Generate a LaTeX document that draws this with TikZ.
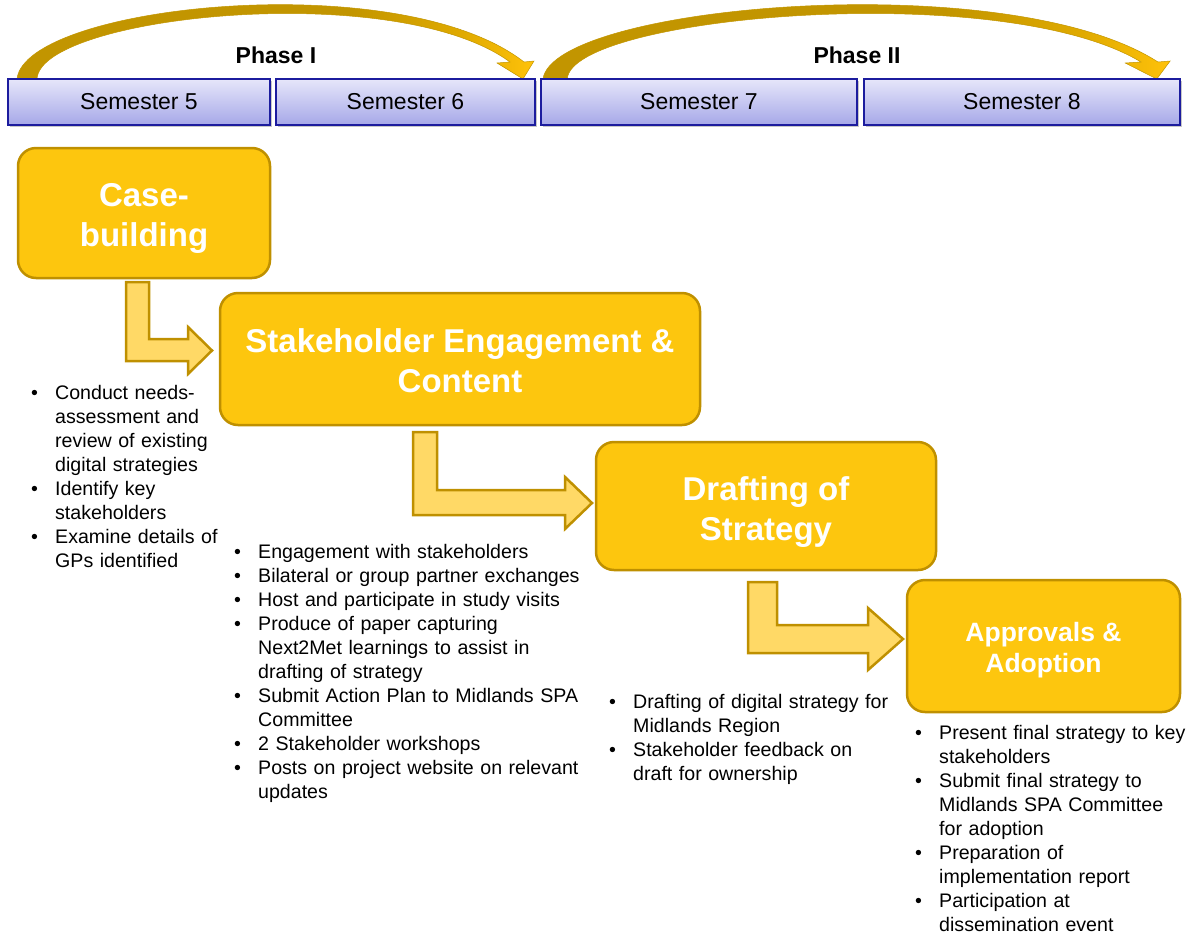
\documentclass[tikz,border=0pt]{standalone}
\usepackage{fontspec}
\setmainfont{Liberation Sans}
\definecolor{boxfill}{HTML}{FDC60E}
\definecolor{boxline}{HTML}{BF9000}
\definecolor{arrowfill}{HTML}{FFD966}
\definecolor{semline}{HTML}{1C1C9E}
\definecolor{semtop}{HTML}{E6E6FA}
\definecolor{sembot}{HTML}{A6A8E8}
\definecolor{arcdark}{HTML}{C29500}
\definecolor{arcmid}{HTML}{E0AA00}
\definecolor{arclight}{HTML}{FFC20A}
\pgfdeclarehorizontalshading{goldarc}{100bp}{color(0bp)=(arcdark); color(25bp)=(arcdark); color(57bp)=(arcdark); color(68bp)=(arcmid); color(75bp)=(arclight); color(100bp)=(arclight)}
\newcommand{\bitem}[1]{\noindent\hangindent=24pt\hangafter=1\makebox[24pt][l]{\textbullet}#1\par}
\newcommand{\arcshape}{(0,79) .. controls (8,5) and (383,-35) .. (507,62) -- (517,61) -- (506,79) -- (480,63) -- (493,62) .. controls (378,-22) and (23,16) .. (20,79) -- cycle}
\begin{document}
\begin{tikzpicture}[x=1pt,y=-1pt,
  stage/.style={draw=boxline, line width=2.5pt, fill=boxfill, rounded corners=18pt, inner sep=0pt},
  stagetext/.style={text=white, font=\bfseries\fontsize{33}{40}\selectfont, align=center, inner sep=0pt},
  sem/.style={draw=semline, line width=1.2pt, top color=semtop, bottom color=sembot, font=\fontsize{23}{27}\selectfont, inner sep=0pt},
  semshadow/.style={fill=black!22},
  bent/.style={draw=boxline, line width=2.5pt, fill=arrowfill, line join=miter},
  bul/.style={anchor=base west, inner sep=0pt, text width=400pt, align=left, font=\fontsize{19.6}{24}\selectfont},
  phase/.style={font=\bfseries\fontsize{23}{27}\selectfont, inner sep=0pt},
  goldarc/.style={shading=goldarc, draw=arcdark, line width=0.5pt}
]
\useasboundingbox (0,0) rectangle (1187,935);

% curved phase arrows
\begin{scope}[shift={(17,0)}]
  \path[goldarc] \arcshape;
\end{scope}
\begin{scope}[shift={(543,0)}, xscale=1.213]
  \path[goldarc] \arcshape;
\end{scope}

% semester bar
\fill[semshadow] (10,81) rectangle (272,127);
\fill[semshadow] (278,81) rectangle (537,127);
\fill[semshadow] (543,81) rectangle (859,127);
\fill[semshadow] (866,81) rectangle (1182,127);
\node[sem, minimum width=262pt, minimum height=46pt] (s5) at (139,102) {Semester 5};
\node[sem, minimum width=259pt, minimum height=46pt] (s6) at (405.5,102) {Semester 6};
\node[sem, minimum width=316pt, minimum height=46pt] (s7) at (699,102) {Semester 7};
\node[sem, minimum width=316pt, minimum height=46pt] (s8) at (1022,102) {Semester 8};

\node[phase] (p1) at (276,55) {Phase I};
\node[phase] (p2) at (857,55) {Phase II};

% stage boxes
\node[stage, minimum width=252pt, minimum height=130pt] (case) at (144,213) {};
\node[stagetext] (caset) at ([yshift=-5pt]case.center) {Case-\\building};
\node[stage, minimum width=480pt, minimum height=132pt] (stake) at (460,359) {};
\node[stagetext] (staket) at ([yshift=-1.5pt]stake.center) {Stakeholder Engagement \&\\Content};
\node[stage, minimum width=340pt, minimum height=128pt] (draft) at (766,506) {};
\node[stagetext] (draftt) at ([yshift=-6pt]draft.center) {Drafting of\\Strategy};
\node[stage, minimum width=273pt, minimum height=132pt] (appr) at (1043.5,646) {};
\node[stagetext, font=\bfseries\fontsize{26.5}{31}\selectfont] (apprt) at ([yshift=-4pt]appr.center) {Approvals \&\\Adoption};

% bent arrows
\draw[bent] (126,282) -- (149,282) -- (149,339) -- (188,339) -- (188,327) -- (212,350.5) -- (188,374) -- (188,361) -- (126,361) -- cycle;
\draw[bent] (413,432) -- (437,432) -- (437,490) -- (565,490) -- (565,477) -- (592,503) -- (565,529) -- (565,515) -- (413,515) -- cycle;
\draw[bent] (748,582) -- (777,582) -- (777,625) -- (868,625) -- (868,608) -- (903,639) -- (868,670) -- (868,653) -- (748,653) -- cycle;

% bullet lists
\node[bul] (l1) at (31,399) {\bitem{Conduct needs-\newline assessment and\newline review of existing\newline digital strategies}\bitem{Identify key\newline stakeholders}\bitem{Examine details of\newline GPs identified}};
\node[bul] (l2) at (234,558) {\bitem{Engagement with stakeholders}\bitem{Bilateral or group partner exchanges}\bitem{Host and participate in study visits}\bitem{Produce of paper capturing\newline Next2Met learnings to assist in\newline drafting of strategy}\bitem{Submit Action Plan to Midlands SPA\newline Committee}\bitem{2 Stakeholder workshops}\bitem{Posts on project website on relevant\newline updates}};
\node[bul] (l3) at (609,708) {\bitem{Drafting of digital strategy for\newline Midlands Region}\bitem{Stakeholder feedback on\newline draft for ownership}};
\node[bul] (l4) at (915,739) {\bitem{Present final strategy to key\newline stakeholders}\bitem{Submit final strategy to\newline Midlands SPA Committee\newline for adoption}\bitem{Preparation of\newline implementation report}\bitem{Participation at\newline dissemination event}};
\end{tikzpicture}
\end{document}
